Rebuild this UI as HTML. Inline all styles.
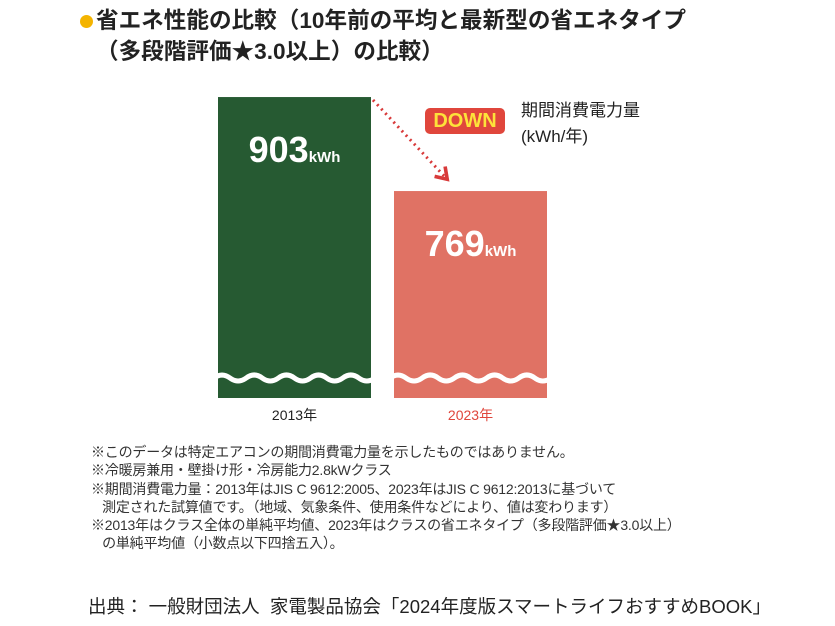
<!DOCTYPE html>
<html><head><meta charset="utf-8"><style>
body{margin:0;width:835px;height:626px;background:#fff;overflow:hidden;font-family:"Liberation Sans","Noto Sans CJK JP",sans-serif;color:#222}
.t{position:absolute;white-space:nowrap}
</style></head><body>
<div class="t" style="left:80px;top:15px;width:13px;height:13px;border-radius:50%;background:#f4b400"></div>
<div class="t" style="left:96px;top:5px;font-size:22.6px;font-weight:bold;line-height:31px">省エネ性能の比較（10年前の平均と最新型の省エネタイプ<br>（多段階評価★3.0以上）の比較）</div>
<svg id="chart" width="835" height="626" style="position:absolute;left:0;top:0">
<defs><marker id="ah" viewBox="0 0 10 10" refX="6" refY="5" markerWidth="6" markerHeight="6" orient="auto"><path d="M1,1 L7,5 L1,9" fill="none" stroke="#d83a3a" stroke-width="2"/></marker></defs>
</svg>
<div class="t" style="left:425px;top:108px;width:80px;height:26px;background:#e0463c;border-radius:5px;color:#fde23a;font-weight:bold;font-size:20px;line-height:26px;text-align:center">DOWN</div>
<div class="t" style="left:521px;top:98px;font-size:17px;line-height:26px">期間消費電力量<br>(kWh/年)</div>
<div class="t" style="left:91px;top:443px;font-size:14px;line-height:18.3px;color:#333;letter-spacing:-0.2px">※このデータは特定エアコンの期間消費電力量を示したものではありません。<br>※冷暖房兼用・壁掛け形・冷房能力2.8kWクラス<br>※期間消費電力量：2013年はJIS C 9612:2005、2023年はJIS C 9612:2013に基づいて<br>&nbsp;&nbsp;&nbsp;測定された試算値です。（地域、気象条件、使用条件などにより、値は変わります）<br>※2013年はクラス全体の単純平均値、2023年はクラスの省エネタイプ（多段階評価★3.0以上）<br>&nbsp;&nbsp;&nbsp;の単純平均値（小数点以下四捨五入）。</div>
<div class="t" style="left:88px;top:593px;font-size:18.5px;color:#222">出典：&nbsp;一般財団法人&nbsp;&nbsp;家電製品協会「2024年度版スマートライフおすすめBOOK」</div>
<script>
const categories=["2013年","2023年"];
const values=[903,769];
const colors=["#265a32","#e07264"];
const labelColors=["#222","#e0463c"];
const svg=document.getElementById('chart');
const NS='http://www.w3.org/2000/svg';
const base=398, x0=[218,394], bw=153;
function y(v){return 730.5-0.7015*v;}
function el(t,a){const e=document.createElementNS(NS,t);for(const k in a)e.setAttribute(k,a[k]);svg.appendChild(e);return e;}
values.forEach((v,i)=>{
  const top=y(v);
  const r=el('rect',{x:x0[i],y:top,width:bw,height:base-top,fill:colors[i]});
  
  
  let d='M'+(x0[i]-4)+',378';
  for(let k=0;k<5;k++){const s=x0[i]-4+k*32.2;d+=' Q'+(s+8)+',372 '+(s+16)+',378 T'+(s+32.2)+',378';}
  const w=el('path',{d:d,fill:'none',stroke:'#fff','stroke-width':5});
  
  
  const t=el('text',{x:x0[i]+bw/2,y:top+65,fill:'#fff','font-size':36,'font-weight':'bold','text-anchor':'middle'});
  
  
  t.innerHTML=v+'<tspan font-size="15">kWh</tspan>';
  const c=el('text',{x:x0[i]+bw/2,y:420,fill:labelColors[i],'font-size':14,'text-anchor':'middle'});
  
  
  c.textContent=categories[i];
});
const a=el('line',{x1:373,y1:100,x2:446,y2:178,stroke:'#d83a3a','stroke-width':3,'stroke-dasharray':'2 4','marker-end':'url(#ah)'});


</script>
</body></html>
